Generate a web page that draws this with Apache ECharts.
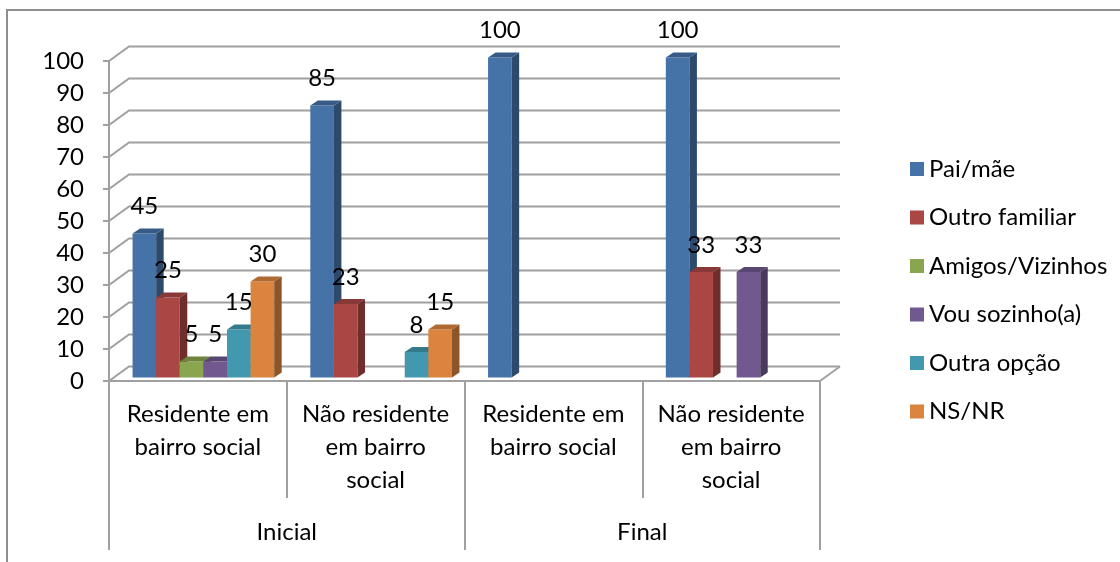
<!DOCTYPE html>
<html>
<head>
<meta charset="utf-8">
<script src="https://cdn.jsdelivr.net/npm/echarts@6/dist/echarts.min.js"></script>
<style>
  html, body { margin: 0; padding: 0; background: #fff; }
  #chart { width: 1120px; height: 562px; }
</style>
</head>
<body>
<div id="chart"></div>
<script>
// categories (two-level axis: sub-groups under Inicial / Final)
const subCategories = [
  'Residente em\nbairro social',
  'Não residente\nem bairro\nsocial',
  'Residente em\nbairro social',
  'Não residente\nem bairro\nsocial'
];
const groups = ['Inicial', 'Final'];
const seriesNames = ['Pai/mãe', 'Outro familiar', 'Amigos/Vizinhos', 'Vou sozinho(a)', 'Outra opção', 'NS/NR'];

// values per series, one per sub-category (null = no bar)
const paiMae = [45, 85, 100, 100];
const outroFamiliar = [25, 23, null, 33];
const amigosVizinhos = [5, null, null, null];
const vouSozinho = [5, null, null, 33];
const outraOpcao = [15, 8, null, null];
const nsNr = [30, 15, null, null];
const seriesValues = [paiMae, outroFamiliar, amigosVizinhos, vouSozinho, outraOpcao, nsNr];

const yTicks = [0, 10, 20, 30, 40, 50, 60, 70, 80, 90, 100];

const COLORS = ['#4572A7', '#AA4643', '#89A54E', '#71588F', '#4198AF', '#DB843D'];
const GRID_LINE = '#A0A0A0';
const FONT = 'Lato, "Liberation Sans", sans-serif';
const FS = 24;

// fake 3D: back wall offset and bar depth
const WALL_DX = 20, WALL_DY = -14.5;
const BAR_SHIFT_X = 5.5, BAR_SHIFT_Y = -3.5;
const DEPTH_X = 7.5, DEPTH_Y = -5;

function shade(hex, f) {
  const n = parseInt(hex.slice(1), 16);
  const r = Math.round(((n >> 16) & 255) * f);
  const g = Math.round(((n >> 8) & 255) * f);
  const b = Math.round((n & 255) * f);
  return `rgb(${r},${g},${b})`;
}

const chart = echarts.init(document.getElementById('chart'));

// back wall grid lines + left wall diagonals + floor edge
const wallSeries = {
  type: 'custom',
  silent: true,
  z: 1,
  data: yTicks.map((v) => [0, v]),
  renderItem(params, api) {
    const cs = params.coordSys;
    const y = api.coord([0, api.value(1)])[1];
    const x0 = cs.x, x1 = cs.x + cs.width;
    const children = [{
      type: 'polyline',
      shape: { points: [[x0, y], [x0 + WALL_DX, y + WALL_DY], [x1 + WALL_DX, y + WALL_DY]] },
      style: { stroke: GRID_LINE, lineWidth: 2, fill: null }
    }];
    if (api.value(1) === 0) {
      children.push({
        type: 'line',
        shape: { x1: x1, y1: y, x2: x1 + WALL_DX, y2: y + WALL_DY },
        style: { stroke: GRID_LINE, lineWidth: 2 }
      });
    }
    return { type: 'group', children };
  }
};

function barSeries(s) {
  const color = COLORS[s];
  return {
    type: 'custom',
    name: seriesNames[s],
    z: 2,
    itemStyle: { color },
    data: seriesValues[s].map((v, i) => [i, v == null ? '-' : v]),
    renderItem(params, api) {
      const v = api.value(1);
      if (v == null || isNaN(v)) return;
      const cat = api.value(0);
      const base = api.coord([cat, 0]);
      const top = api.coord([cat, v]);
      const band = api.size([1, 0])[0];
      const w = band * 0.1328;
      const x = base[0] - 3 * w + s * w + BAR_SHIFT_X;
      const yb = base[1] + BAR_SHIFT_Y;
      const yt = top[1] + BAR_SHIFT_Y;
      return {
        type: 'group',
        children: [
          { type: 'rect', shape: { x, y: yt, width: w, height: yb - yt }, style: { fill: color } },
          {
            type: 'polygon',
            shape: { points: [[x + w, yt], [x + w + DEPTH_X, yt + DEPTH_Y], [x + w + DEPTH_X, yb + DEPTH_Y], [x + w, yb]] },
            style: { fill: shade(color, 0.65) }
          },
          {
            type: 'polygon',
            shape: { points: [[x, yt], [x + DEPTH_X, yt + DEPTH_Y], [x + w + DEPTH_X, yt + DEPTH_Y], [x + w, yt]] },
            style: { fill: shade(color, 0.8) }
          },
          {
            type: 'text',
            z2: 100,
            style: {
              text: String(v), x: x + w / 2, y: yt - 27,
              align: 'center', verticalAlign: 'middle',
              fontFamily: FONT, fontSize: FS, fill: '#000'
            }
          }
        ]
      };
    }
  };
}

chart.setOption({
  animation: false,
  backgroundColor: '#fff',
  textStyle: { fontFamily: FONT },
  graphic: [{
    type: 'rect',
    shape: { x: 7, y: 10, width: 1200, height: 600 },
    style: { fill: null, stroke: '#8E8E8E', lineWidth: 2 },
    silent: true
  }],
  legend: {
    orient: 'vertical',
    left: 905,
    top: 152,
    icon: 'rect',
    itemWidth: 14,
    itemHeight: 14,
    itemGap: 24.5,
    data: seriesNames,
    textStyle: { fontFamily: FONT, fontSize: FS, color: '#000', lineHeight: 24 }
  },
  grid: { left: 109, right: 300, top: 61, bottom: 181 },
  xAxis: [
    {
      type: 'category',
      data: subCategories,
      position: 'bottom',
      axisLine: { lineStyle: { color: GRID_LINE, width: 2 } },
      axisTick: { show: true, interval: 0, length: 117, lineStyle: { color: GRID_LINE, width: 2 } },
      axisLabel: { interval: 0, margin: 17, fontFamily: FONT, fontSize: FS, lineHeight: 33, color: '#000' }
    },
    {
      type: 'category',
      data: groups,
      position: 'bottom',
      axisLine: { show: false },
      axisTick: { show: true, interval: 0, length: 169, lineStyle: { color: GRID_LINE, width: 2 } },
      axisLabel: { interval: 0, margin: 139, fontFamily: FONT, fontSize: FS, lineHeight: 24, color: '#000' }
    }
  ],
  yAxis: {
    type: 'value',
    min: 0,
    max: 100,
    interval: 10,
    axisLine: { show: true, lineStyle: { color: GRID_LINE, width: 2 } },
    axisTick: { show: true, length: 6, lineStyle: { color: GRID_LINE, width: 2 } },
    splitLine: { show: false },
    axisLabel: { margin: 25, fontFamily: FONT, fontSize: FS, color: '#000' }
  },
  series: [wallSeries].concat(seriesNames.map((_, s) => barSeries(s)))
});
</script>
</body>
</html>
